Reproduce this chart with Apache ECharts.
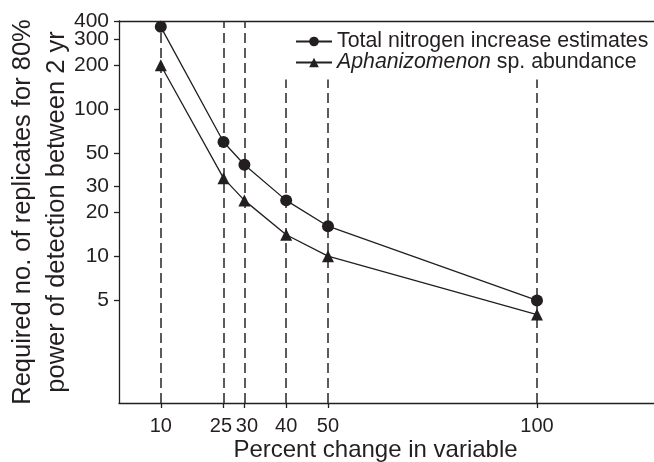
<!DOCTYPE html>
<html>
<head>
<meta charset="utf-8">
<script src="https://cdn.jsdelivr.net/npm/echarts@6/dist/echarts.min.js"></script>
<style>
  html, body { margin: 0; padding: 0; background: #fff; }
  #chart { width: 654px; height: 462px; }
</style>
</head>
<body>
<div id="chart"></div>
<script>
// values
var pctChange = [10, 25, 30, 40, 50, 100];
var nitrogen = [365, 60, 42, 24, 16, 5];
var aphanizomenon = [200, 34, 24, 14, 10, 4];
var yTicks = [5, 10, 20, 30, 50, 100, 200, 300];
var yTopTick = [400];
// where each dashed guide stops (in y units)
var dashTop = [365, 400, 400, 160, 160, 160];

var ink = '#231f20';
var font = '"Liberation Sans", Arial, Helvetica, sans-serif';

function pairs(xs, ys) {
    var out = [];
    for (var i = 0; i < xs.length; i++) out.push([xs[i], ys[i]]);
    return out;
}

var guides = [];
for (var k = 0; k < pctChange.length; k++) {
    guides.push([{ coord: [pctChange[k], 1] }, { coord: [pctChange[k], dashTop[k]] }]);
}

var yLabelStyle = { fontFamily: font, fontSize: 21, color: ink, margin: 10, hideOverlap: false };

var myChart = echarts.init(document.getElementById('chart'));
var option = {
    animation: false,
    textStyle: { fontFamily: font, color: ink },
    grid: { left: 119, right: 0, top: 21, bottom: 59, containLabel: false, outerBoundsMode: 'none' },
    legend: {
        orient: 'vertical',
        left: 295,
        top: 31,
        padding: 0,
        itemWidth: 36,
        itemHeight: 12,
        itemGap: 0,
        textStyle: {
            fontFamily: font, fontSize: 21.3, color: ink, lineHeight: 20,
            rich: { i: { fontStyle: 'italic', fontFamily: font, fontSize: 21.3, color: ink, lineHeight: 20 } }
        },
        formatter: function (name) {
            if (name === 'Aphanizomenon') return '{i|Aphanizomenon} sp. abundance';
            return name;
        },
        data: ['Total nitrogen increase estimates', 'Aphanizomenon']
    },
    xAxis: [{
        type: 'value',
        min: 0,
        max: 128,
        name: 'Percent change in variable',
        nameLocation: 'middle',
        nameGap: 35,
        nameMoveOverlap: false,
        nameTextStyle: { fontFamily: font, fontSize: 24, color: ink, padding: [0, 22, 0, 0] },
        axisLine: { show: true, lineStyle: { color: ink, width: 1.3 } },
        axisTick: { show: true, length: 5, customValues: pctChange, lineStyle: { color: ink, width: 1.3 } },
        axisLabel: {
            customValues: pctChange, fontFamily: font, fontSize: 20, color: ink, margin: 13, hideOverlap: false,
            formatter: function (v) {
                if (v === 25) return '{l|25}';
                if (v === 30) return '{r|30}';
                return String(v);
            },
            rich: {
                l: { fontFamily: font, fontSize: 20, color: ink, padding: [0, 5, 0, 0] },
                r: { fontFamily: font, fontSize: 20, color: ink, padding: [0, 0, 0, 5] }
            }
        },
        splitLine: { show: false }
    }, {
        type: 'value',
        position: 'top',
        min: 0,
        max: 128,
        axisLine: { show: true, onZero: false, lineStyle: { color: ink, width: 1.3 } },
        axisTick: { show: false },
        axisLabel: { show: false },
        splitLine: { show: false }
    }],
    yAxis: [{
        type: 'log',
        logBase: 10,
        min: 1,
        max: 400,
        position: 'left',
        name: 'Required no. of replicates for 80%\npower of detection between 2 yr',
        nameLocation: 'middle',
        nameGap: 45,
        nameMoveOverlap: false,
        nameRotate: 90,
        nameTextStyle: { fontFamily: font, fontSize: 25.5, color: ink, lineHeight: 34 },
        axisLine: { show: true, lineStyle: { color: ink, width: 1.3 } },
        axisTick: { show: true, length: 5, customValues: yTicks, lineStyle: { color: ink, width: 1.3 } },
        axisLabel: echarts.util.extend({ customValues: yTicks }, yLabelStyle),
        splitLine: { show: false }
    }, {
        // second copy of the same scale, only to carry the top "400" label
        type: 'log',
        logBase: 10,
        min: 1,
        max: 400,
        position: 'left',
        offset: 0,
        axisLine: { show: false },
        axisTick: { show: true, length: 5, customValues: yTopTick, lineStyle: { color: ink, width: 1.3 } },
        axisLabel: echarts.util.extend({ customValues: yTopTick, showMaxLabel: true }, yLabelStyle),
        splitLine: { show: false }
    }],
    series: [{
        name: 'Total nitrogen increase estimates',
        type: 'line',
        data: pairs(pctChange, nitrogen),
        symbol: 'circle',
        symbolSize: 12,
        lineStyle: { color: ink, width: 1.3 },
        itemStyle: { color: ink },
        z: 3,
        markLine: {
            silent: true,
            symbol: 'none',
            label: { show: false },
            lineStyle: { color: '#333', type: [10, 5], width: 1.6 },
            data: guides,
            z: 1
        }
    }, {
        name: 'Aphanizomenon',
        type: 'line',
        data: pairs(pctChange, aphanizomenon),
        symbol: 'triangle',
        symbolSize: 12,
        lineStyle: { color: ink, width: 1.3 },
        itemStyle: { color: ink },
        z: 3
    }]
};
option && myChart.setOption(option);
</script>
</body>
</html>
